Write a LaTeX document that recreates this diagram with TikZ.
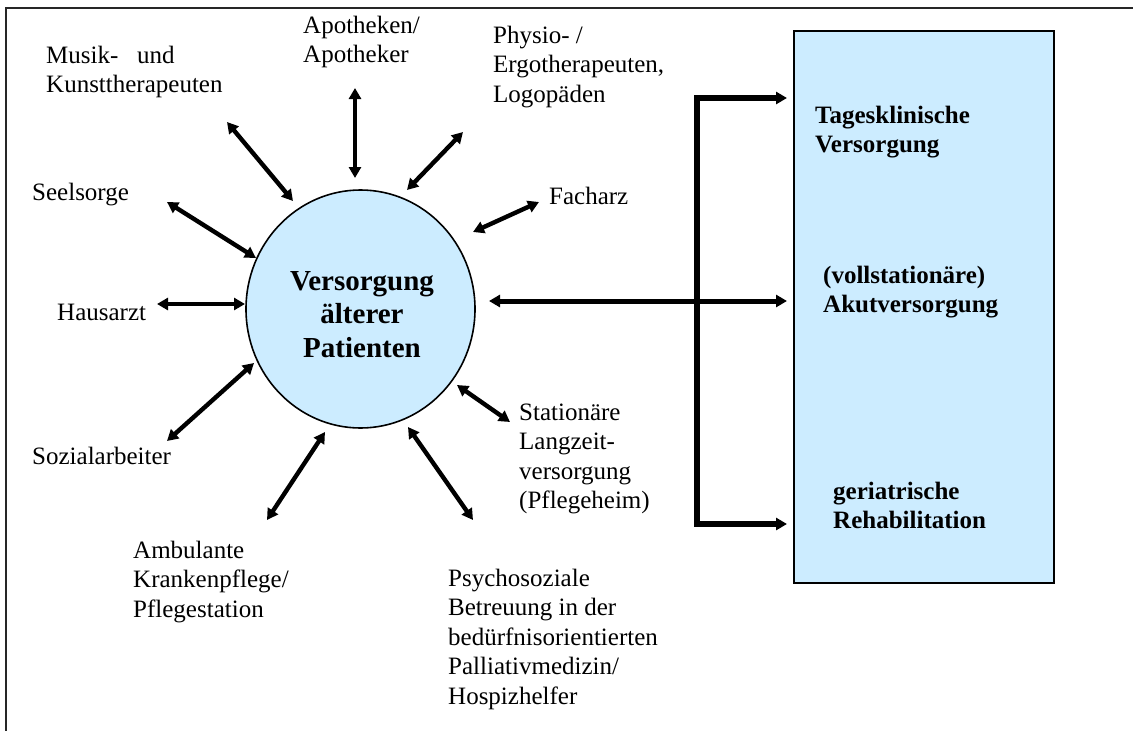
\documentclass[tikz,border=0pt]{standalone}
\usepackage{fontspec}
\setmainfont{Liberation Serif}
\usetikzlibrary{arrows.meta,shapes.geometric}
\definecolor{lightblu}{HTML}{CCECFF}
\newcommand\mlines[1]{\begin{tabular}[t]{@{}l@{}}#1\end{tabular}}
\newcommand\clines[1]{\begin{tabular}[t]{@{}c@{}}#1\end{tabular}}
\tikzset{
  lab/.style={anchor=base west, inner sep=0pt, font=\fontsize{25}{29.5}\selectfont},
  boxlab/.style={anchor=base west, inner sep=0pt, font=\fontsize{25}{29.5}\selectfont\bfseries},
  rel/.style={line width=4.4pt, {Triangle[length=11pt,width=12pt]}-{Triangle[length=11pt,width=12pt]}},
  brk/.style={line width=5.4pt, line join=miter, -{Triangle[length=11pt,width=12pt]}},
  brkline/.style={line width=5.4pt},
  frameline/.style={line width=1.8pt, draw=black!85},
}
\begin{document}
\begin{tikzpicture}[x=1pt,y=-1pt]
\useasboundingbox (0,0) rectangle (1133,731);
% frame
\coordinate (f1) at (6,731);
\coordinate (f2) at (6,8);
\coordinate (f3) at (1133,8);
\draw[frameline] (f1) -- (f2) -- (f3);

% right box
\node[draw, line width=1.8pt, fill=lightblu, minimum width=260pt, minimum height=552pt, inner sep=0pt, anchor=north west] (box) at (793,30) {};

% central ellipse
\node[ellipse, draw, line width=1.6pt, fill=lightblu, minimum width=229pt, minimum height=238pt, inner sep=0pt] (pat) at (360.5,309) {};
\node[anchor=base, inner sep=0pt, font=\fontsize{29}{33.5}\selectfont\bfseries] (pattext) at (362,290) {\clines{Versorgung\\älterer\\Patienten}};

% labels
\node[lab] (musik) at (46,63) {\mlines{Musik-\hspace{0.75em}und\\Kunsttherapeuten}};
\node[lab] (apo) at (303,33) {\mlines{Apotheken/\\Apotheker}};
\node[lab] (physio) at (493,43) {\mlines{Physio- /\\Ergotherapeuten,\\Logopäden}};
\node[lab] (fach) at (549,204) {Facharz};
\node[lab] (seel) at (32,200) {Seelsorge};
\node[lab] (haus) at (57,320) {Hausarzt};
\node[lab] (sozial) at (32,464) {Sozialarbeiter};
\node[lab] (ambu) at (133,558) {\mlines{Ambulante\\Krankenpflege/\\Pflegestation}};
\node[lab] (psycho) at (448,586) {\mlines{Psychosoziale\\Betreuung in der\\bedürfnisorientierten\\Palliativmedizin/\\Hospizhelfer}};
\node[lab] (stat) at (519,420) {\mlines{Stationäre\\Langzeit-\\versorgung\\(Pflegeheim)}};

\node[boxlab] (tages) at (815,123) {\mlines{Tagesklinische\\Versorgung}};
\node[boxlab] (akut) at (823,283) {\mlines{(vollstationäre)\\Akutversorgung}};
\node[boxlab] (reha) at (833,499) {\mlines{geriatrische\\Rehabilitation}};

% arrow end coordinates
\coordinate (musikO) at (227,122);  \coordinate (musikI) at (293,201);
\coordinate (apoO) at (355,88);     \coordinate (apoI) at (355,178);
\coordinate (physioO) at (463,132); \coordinate (physioI) at (407,190);
\coordinate (fachO) at (539,202);   \coordinate (fachI) at (473,232);
\coordinate (seelO) at (167,202);   \coordinate (seelI) at (256,258);
\coordinate (hausO) at (157,304);   \coordinate (hausI) at (245,304);
\coordinate (sozialO) at (167,441); \coordinate (sozialI) at (254,363);
\coordinate (ambuO) at (267,520);   \coordinate (ambuI) at (325,432);
\coordinate (psychoO) at (473,520); \coordinate (psychoI) at (408,427);
\coordinate (statO) at (510,422);   \coordinate (statI) at (457,385);

\draw[rel] (musikO) -- (musikI);
\draw[rel] (apoO) -- (apoI);
\draw[rel] (physioO) -- (physioI);
\draw[rel] (fachO) -- (fachI);
\draw[rel] (seelO) -- (seelI);
\draw[rel] (hausO) -- (hausI);
\draw[rel] (sozialO) -- (sozialI);
\draw[rel] (ambuO) -- (ambuI);
\draw[rel] (psychoO) -- (psychoI);
\draw[rel] (statO) -- (statI);

% main connection to box
\coordinate (mainL) at (489,301);
\coordinate (mainR) at (787,301);
\coordinate (jtop) at (697,98);
\coordinate (jbot) at (697,524);
\coordinate (ttop) at (787,98);
\coordinate (tbot) at (787,524);
\draw[rel, line width=5pt] (mainL) -- (mainR);
\draw[brkline] (jtop) -- (jbot);
\draw[brk] ([xshift=-2.7pt]jtop) -- (ttop);
\draw[brk] ([xshift=-2.7pt]jbot) -- (tbot);
\end{tikzpicture}
\end{document}
